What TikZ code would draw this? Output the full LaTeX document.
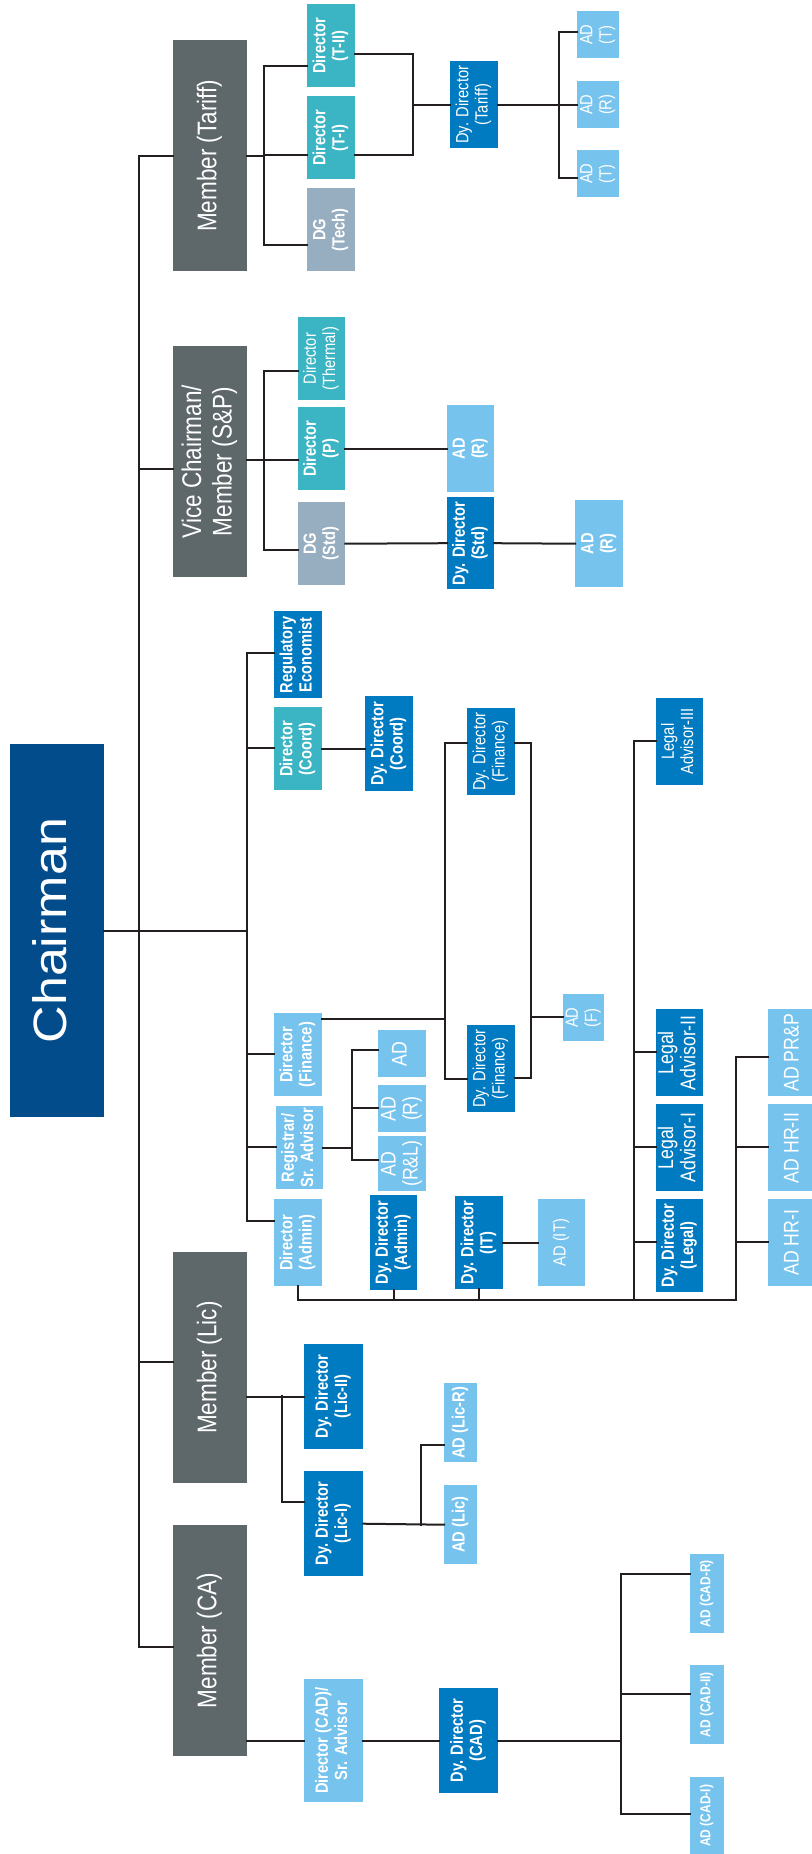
\documentclass[tikz,border=0pt]{standalone}
\usepackage{fontspec}
\setmainfont{Liberation Sans}
\usepackage{graphicx}
\usepackage{xcolor}
\usepackage{tikz}
\usetikzlibrary{positioning, calc}

\definecolor{membergray}{HTML}{5E686B}
\definecolor{chairblue}{HTML}{034C8C}
\definecolor{dirteal}{HTML}{3BB4C4}
\definecolor{dggray}{HTML}{97ADC0}
\definecolor{dyblue}{HTML}{007BC2}
\definecolor{adblue}{HTML}{76C3EE}
\definecolor{linec}{HTML}{231F20}

\newcommand{\vtext}[2][1.2]{\rotatebox{90}{\scalebox{1}[#1]{\begin{tabular}{@{}c@{}}#2\end{tabular}}}}

\begin{document}
\begin{tikzpicture}[
   x=1pt, y=-1pt,
   box/.style = {rectangle, inner sep=0pt, anchor=north west, text=white},
   wh/.style 2 args = {minimum width=#1, minimum height=#2},
   member/.style = {box, fill=membergray, wh={74}{231}, font=\fontsize{22.5}{25.5}\selectfont},
   chairbox/.style = {box, fill=chairblue, font=\fontsize{52}{54}\selectfont},
   director/.style = {box, fill=dirteal},
   dgbox/.style = {box, fill=dggray},
   dydir/.style = {box, fill=dyblue},
   adbox/.style = {box, fill=adblue},
   txtreg/.style = {font=\fontsize{14.7}{16}\selectfont},
   txtbold/.style = {font=\fontsize{14.7}{16}\selectfont\bfseries},
   txtlarge/.style = {font=\fontsize{17.7}{18.5}\selectfont},
   txtsmall/.style = {font=\fontsize{12}{13}\selectfont\bfseries},
   line/.style = {draw=linec, line width=2pt, line cap=rect}
   ]
  \useasboundingbox (0,0) rectangle (811,1854);

  % Chairman
  \node[chairbox, wh={94}{373}] (chair) at (10,744) {\vtext[0.9]{Chairman}};

  % Members
  \node[member] (mtariff) at (173,40) {\vtext{Member (Tariff)}};
  \node[member] (mvc) at (173,346) {\vtext{Vice Chairman/\\Member (S\&P)}};
  \node[member] (mlic) at (173,1252) {\vtext{Member (Lic)}};
  \node[member] (mca) at (173,1525) {\vtext{Member (CA)}};

  % Tariff wing
  \node[director, txtbold, wh={48}{83}] (dtII) at (307,4) {\vtext{Director\\(T-II)}};
  \node[director, txtbold, wh={48}{83}] (dtI) at (307,96) {\vtext{Director\\(T-I)}};
  \node[dgbox, txtbold, wh={48}{83}] (dgtech) at (307,188) {\vtext{DG\\(Tech)}};
  \node[dydir, txtreg, wh={48}{87}] (ddtariff) at (450,61) {\vtext{Dy. Director\\(Tariff)}};
  \node[adbox, txtreg, wh={42}{47}] (adt1) at (577,11) {\vtext{AD\\(T)}};
  \node[adbox, txtreg, wh={42}{47}] (adr1) at (577,81) {\vtext{AD\\(R)}};
  \node[adbox, txtreg, wh={42}{47}] (adt2) at (577,150) {\vtext{AD\\(T)}};

  % S&P wing
  \node[director, txtreg, wh={47}{83}] (dthermal) at (298,317) {\vtext{Director\\(Thermal)}};
  \node[director, txtbold, wh={47}{83}] (dp) at (298,407) {\vtext{Director\\(P)}};
  \node[dgbox, txtbold, wh={47}{83}] (dgstd) at (298,502) {\vtext{DG\\(Std)}};
  \node[adbox, txtbold, wh={47}{87}] (adr2) at (447,405) {\vtext{AD\\(R)}};
  \node[dydir, txtbold, wh={47}{92}] (ddstd) at (447,497) {\vtext{Dy. Director\\(Std)}};
  \node[adbox, txtbold, wh={48}{87}] (adr3) at (575,500) {\vtext{AD\\(R)}};

  % Chairman's staff
  \node[dydir, txtbold, wh={48}{87}] (regecon) at (274,611) {\vtext{Regulatory\\Economist}};
  \node[director, txtbold, wh={48}{83}] (dcoord) at (274,707) {\vtext{Director\\(Coord)}};
  \node[dydir, txtbold, wh={48}{95}] (ddcoord) at (365,696) {\vtext{Dy. Director\\(Coord)}};
  \node[dydir, txtreg, wh={48}{87}] (ddfin1) at (467,708) {\vtext{Dy. Director\\(Finance)}};
  \node[dydir, txtreg, wh={47}{87}] (legal3) at (656,698) {\vtext{Legal\\Advisor-III}};
  \node[adbox, txtbold, wh={48}{83}] (dfin) at (274,1013) {\vtext{Director\\(Finance)}};
  \node[adbox, txtbold, wh={47}{83}] (registrar) at (276,1106) {\vtext{Registrar/\\Sr. Advisor}};
  \node[adbox, txtlarge, wh={48}{47}] (ad1) at (378,1030) {\vtext{AD}};
  \node[adbox, txtlarge, wh={48}{47}] (adr4) at (378,1085) {\vtext{AD\\(R)}};
  \node[adbox, txtlarge, wh={48}{55}] (adrl) at (378,1136) {\vtext{AD\\(R\&L)}};
  \node[dydir, txtreg, wh={48}{87}] (ddfin2) at (467,1025) {\vtext{Dy. Director\\(Finance)}};
  \node[adbox, txtreg, wh={41}{47}] (adf) at (563,994) {\vtext{AD\\(F)}};
  \node[dydir, txtlarge, wh={47}{87}] (legal2) at (656,1009) {\vtext{Legal\\Advisor-II}};
  \node[dydir, txtlarge, wh={47}{87}] (legal1) at (656,1104) {\vtext{Legal\\Advisor-I}};
  \node[adbox, txtlarge, wh={52}{87}] (adprp) at (768,1009) {\vtext{AD PR\&P}};
  \node[adbox, txtlarge, wh={52}{87}] (adhr2) at (768,1104) {\vtext{AD HR-II}};
  \node[adbox, txtlarge, wh={52}{87}] (adhr1) at (768,1199) {\vtext{AD HR-I}};
  \node[adbox, txtbold, wh={48}{87}] (dadmin) at (274,1199) {\vtext{Director\\(Admin)}};
  \node[dydir, txtbold, wh={47}{95}] (ddadmin) at (370,1195) {\vtext{Dy. Director\\(Admin)}};
  \node[dydir, txtbold, wh={48}{93}] (ddit) at (455,1196) {\vtext{Dy. Director\\(IT)}};
  \node[adbox, txtreg, wh={47}{87}] (adit) at (538,1199) {\vtext{AD (IT)}};
  \node[dydir, txtbold, wh={47}{93}] (ddlegal) at (656,1199) {\vtext{Dy. Director\\(Legal)}};

  % Licensing wing
  \node[dydir, txtbold, wh={59}{105}] (ddlic2) at (304,1344) {\vtext{Dy. Director\\(Lic-II)}};
  \node[dydir, txtbold, wh={59}{105}] (ddlic1) at (304,1471) {\vtext{Dy. Director\\(Lic-I)}};
  \node[adbox, txtbold, wh={33}{79}] (adlicr) at (444,1383) {\vtext{AD (Lic-R)}};
  \node[adbox, txtbold, wh={33}{79}] (adlic) at (444,1485) {\vtext{AD (Lic)}};

  % CA wing
  \node[adbox, txtbold, wh={59}{123}] (dcad) at (304,1679) {\vtext{Director (CAD)/\\Sr. Advisor}};
  \node[dydir, txtbold, wh={59}{105}] (ddcad) at (439,1688) {\vtext{Dy. Director\\(CAD)}};
  \node[adbox, txtsmall, wh={34}{79}] (adcadr) at (690,1554) {\vtext{AD (CAD-R)}};
  \node[adbox, txtsmall, wh={34}{79}] (adcad2) at (690,1665) {\vtext{AD (CAD-II)}};
  \node[adbox, txtsmall, wh={34}{77}] (adcad1) at (690,1777) {\vtext{AD (CAD-I)}};

  % Spine to members
  \coordinate (spine1) at (139,156);
  \coordinate (spine2) at (139,469);
  \coordinate (spine3) at (139,1362);
  \coordinate (spine4) at (139,1647);
  \draw[line] (spine1) -- (spine4);
  \draw[line] (spine1) -- (spine1 -| mtariff.west);
  \draw[line] (spine2) -- (spine2 -| mvc.west);
  \draw[line] (spine3) -- (spine3 -| mlic.west);
  \draw[line] (spine4) -- (spine4 -| mca.west);

  % Staff bus
  \coordinate (staff1) at (247,653);
  \coordinate (staff2) at (247,748);
  \coordinate (staff3) at (247,1054);
  \coordinate (staff4) at (247,1147);
  \coordinate (staff5) at (247,1221);
  \draw[line] (chair.east) -- (chair.east -| staff1);
  \draw[line] (staff1) -- (staff5);
  \draw[line] (staff1) -- (staff1 -| regecon.west);
  \draw[line] (staff2) -- (staff2 -| dcoord.west);
  \draw[line] (staff3) -- (staff3 -| dfin.west);
  \draw[line] (staff4) -- (staff4 -| registrar.west);
  \draw[line] (staff5) -- (staff5 -| dadmin.west);

  % Tariff arrows
  \coordinate (tbus1) at (264,66);
  \coordinate (tbus2) at (264,155);
  \coordinate (tbus3) at (264,245);
  \draw[line] (mtariff.east) -- (mtariff.east -| tbus2);
  \draw[line] (tbus1) -- (tbus3);
  \draw[line] (tbus1) -- (tbus1 -| dtII.west);
  \draw[line] (tbus2) -- (tbus2 -| dtI.west);
  \draw[line] (tbus3) -- (tbus3 -| dgtech.west);
  \coordinate (tjoin1) at (413,54);
  \coordinate (tjoin2) at (413,155);
  \coordinate (tjoin3) at (413,105);
  \draw[line] (tjoin1 -| dtII.east) -- (tjoin1) -- (tjoin2) -- (tjoin2 -| dtI.east);
  \draw[line] (tjoin3) -- (tjoin3 -| ddtariff.west);
  \coordinate (tad1) at (559,32);
  \coordinate (tad2) at (559,105);
  \coordinate (tad3) at (559,178);
  \draw[line] (ddtariff.east) -- (ddtariff.east -| tad2);
  \draw[line] (tad1) -- (tad3);
  \draw[line] (tad1) -- (tad1 -| adt1.west);
  \draw[line] (tad2) -- (tad2 -| adr1.west);
  \draw[line] (tad3) -- (tad3 -| adt2.west);

  % S&P arrows
  \coordinate (vbus1) at (264,371);
  \coordinate (vbus2) at (264,460);
  \coordinate (vbus3) at (264,550);
  \draw[line] (vbus2 -| mvc.east) -- (vbus2);
  \draw[line] (vbus1) -- (vbus3);
  \draw[line] (vbus1) -- (vbus1 -| dthermal.west);
  \draw[line] (vbus2) -- (vbus2 -| dp.west);
  \draw[line] (vbus3) -- (vbus3 -| dgstd.west);
  \draw[line] (dp.east) -- (adr2.west);
  \draw[line] (dgstd.east) -- (ddstd.west);
  \draw[line] (ddstd.east) -- (adr3.west);

  % Coord and finance
  \draw[line] (dcoord.east) -- (dcoord.east -| ddcoord.west);
  \coordinate (fleft0) at (445,1019);
  \coordinate (fleft1) at (445,743);
  \coordinate (fleft2) at (445,1079);
  \coordinate (fright0) at (531,1017);
  \coordinate (fright1) at (531,743);
  \coordinate (fright2) at (531,1078);
  \draw[line] (fleft0 -| dfin.east) -- (fleft0);
  \draw[line] (fleft1 -| ddfin1.west) -- (fleft1) -- (fleft2) -- (fleft2 -| ddfin2.west);
  \draw[line] (fright1 -| ddfin1.east) -- (fright1) -- (fright2) -- (fright2 -| ddfin2.east);
  \draw[line] (fright0) -- (fright0 -| adf.west);

  % Registrar
  \coordinate (rbus1) at (352,1050);
  \coordinate (rbus2) at (352,1108);
  \coordinate (rbus3) at (352,1160);
  \draw[line] (registrar.east) -- (registrar.east -| rbus2);
  \draw[line] (rbus1) -- (rbus3);
  \draw[line] (rbus1) -- (rbus1 -| ad1.west);
  \draw[line] (rbus2) -- (rbus2 -| adr4.west);
  \draw[line] (rbus3) -- (rbus3 -| adrl.west);

  % Legal and HR
  \coordinate (lbus1) at (634,741);
  \coordinate (lbus2) at (634,1052);
  \coordinate (lbus3) at (634,1147);
  \coordinate (lbus4) at (634,1242);
  \coordinate (lbus5) at (634,1300);
  \draw[line] (lbus1) -- (lbus5);
  \draw[line] (lbus1) -- (lbus1 -| legal3.west);
  \draw[line] (lbus2) -- (lbus2 -| legal2.west);
  \draw[line] (lbus3) -- (lbus3 -| legal1.west);
  \draw[line] (lbus4) -- (lbus4 -| ddlegal.west);
  \coordinate (hbus1) at (736,1057);
  \coordinate (hbus2) at (736,1147);
  \coordinate (hbus3) at (736,1242);
  \coordinate (hbus4) at (736,1300);
  \draw[line] (hbus1) -- (hbus4);
  \draw[line] (hbus1) -- (hbus1 -| adprp.west);
  \draw[line] (hbus2) -- (hbus2 -| adhr2.west);
  \draw[line] (hbus3) -- (hbus3 -| adhr1.west);

  % Admin bottom bus
  \draw[line] (dadmin.south) -- (dadmin.south |- hbus4) -- (hbus4);
  \draw[line] (ddadmin.south) -- (ddadmin.south |- hbus4);
  \draw[line] (ddit.south) -- (ddit.south |- hbus4);
  \draw[line] (ddit.east) -- (adit.west);

  % Licensing arrows
  \coordinate (lic1) at (282,1396);
  \coordinate (lic2) at (282,1502);
  \draw[line] (mlic.east |- ddlic2.west) -- (ddlic2.west);
  \draw[line] (lic1) -- (lic2) -- (lic2 -| ddlic1.west);
  \coordinate (licad) at (421,1445);
  \draw[line] (ddlic1.east) -- (adlic.west);
  \draw[line] (licad -| adlicr.west) -- (licad) -- (licad |- adlic.west);

  % CA arrows
  \coordinate (cbus1) at (621,1574);
  \coordinate (cbus2) at (621,1694);
  \coordinate (cbus3) at (621,1814);
  \draw[line] (mca.east |- dcad.west) -- (dcad.west);
  \draw[line] (dcad.east) -- (ddcad.west);
  \draw[line] (ddcad.east) -- (ddcad.east -| cbus1);
  \draw[line] (cbus1) -- (cbus3);
  \draw[line] (cbus1) -- (cbus1 -| adcadr.west);
  \draw[line] (cbus2) -- (cbus2 -| adcad2.west);
  \draw[line] (cbus3) -- (cbus3 -| adcad1.west);
\end{tikzpicture}
\end{document}
